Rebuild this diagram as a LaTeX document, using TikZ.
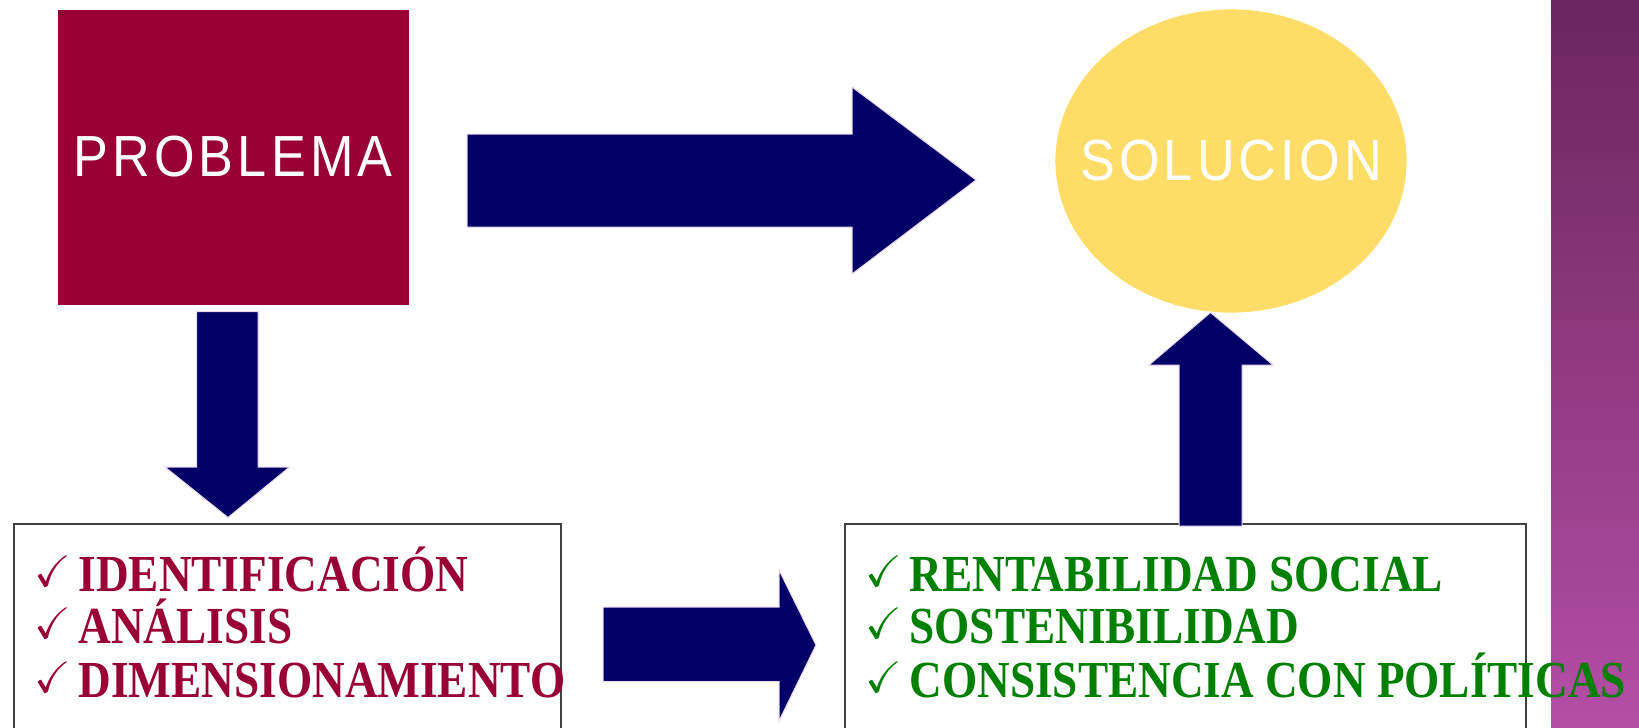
\documentclass[tikz,border=0pt]{standalone}
\usepackage{amssymb}
\usepackage{fontspec}
\setmainfont{Liberation Serif}
\setsansfont{Liberation Sans}
\usetikzlibrary{positioning, shapes}

\definecolor{carmin}{RGB}{153,0,51}
\definecolor{marino}{RGB}{0,0,102}
\definecolor{oro}{RGB}{253,221,104}
\definecolor{verde}{RGB}{0,128,0}
\definecolor{borde}{RGB}{64,64,64}
\definecolor{ciruela}{RGB}{106,38,92}
\definecolor{fucsia}{RGB}{180,78,166}
\definecolor{contorno}{RGB}{236,214,236}

\newcommand{\marca}[1]{\makebox[43.9pt][l]{\fontsize{44}{44}\selectfont\raisebox{5pt}{$\checkmark$}}\scalebox{0.87}[1]{\fontsize{52}{52}\selectfont\bfseries #1}}

\begin{document}
\begin{tikzpicture}[x=1pt, y=-1pt,
        flecha/.style={fill=marino, draw=contorno, line width=1pt},
        caja/.style={draw=borde, line width=2pt, fill=white, anchor=north west},
        titulo/.style={text=white, font=\sffamily\fontsize{58}{58}\selectfont\addfontfeature{LetterSpace=8}},
        punto/.style={anchor=base west, inner sep=0pt}]

        \useasboundingbox (0,0) rectangle (1639,728);
        \fill[white] (0,0) rectangle (1639,728);
        \shade[top color=ciruela, bottom color=fucsia] (1551,0) rectangle (1639,728);

        \node[fill=carmin, minimum width=351pt, minimum height=295pt] (problema) at (233,157) {};
        \node[titulo] at (problema.center) {\scalebox{0.9}[1]{PROBLEMA}};
        \fill[oro] (1231,161) ellipse [x radius=175.6, y radius=151.6];
        \node[titulo] (solucion) at (1231,161) {\scalebox{0.9}[1]{SOLUCION}};

        \node[caja, minimum width=547pt, minimum height=240pt] (pasos) at (12.5,522.7) {};
        \node[caja, minimum width=681.5pt, minimum height=240pt] (criterios) at (843.6,522.7) {};

        \filldraw[flecha] (467,134) -- (852,134) -- (852,87) -- (976,180) -- (852,274) -- (852,227) -- (467,227) -- cycle;
        \filldraw[flecha] (196.5,311.5) -- (258,311.5) -- (258,467) -- (289.5,467) -- (228,517.5) -- (165,467) -- (196.5,467) -- cycle;
        \filldraw[flecha] (603,607) -- (779,607) -- (779,570) -- (816,645) -- (779,721) -- (779,681.5) -- (603,681.5) -- cycle;
        \filldraw[flecha] (1179,526) -- (1179,365) -- (1149,365) -- (1210.5,312.5) -- (1273,365) -- (1242,365) -- (1242,526) -- cycle;

        \node[punto, text=carmin] (ident) at (34.5,591.6) {\marca{IDENTIFICACIÓN}};
        \node[punto, text=carmin] (anal) at (34.5,643.9) {\marca{ANÁLISIS}};
        \node[punto, text=carmin] (dimen) at (34.5,697.2) {\marca{DIMENSIONAMIENTO}};

        \node[punto, text=verde] (renta) at (865.5,591.6) {\marca{RENTABILIDAD SOCIAL}};
        \node[punto, text=verde] (soste) at (865.5,643.9) {\marca{SOSTENIBILIDAD}};
        \node[punto, text=verde] (consis) at (865.5,697.2) {\marca{CONSISTENCIA CON POLÍTICAS}};

    \end{tikzpicture}
\end{document}
